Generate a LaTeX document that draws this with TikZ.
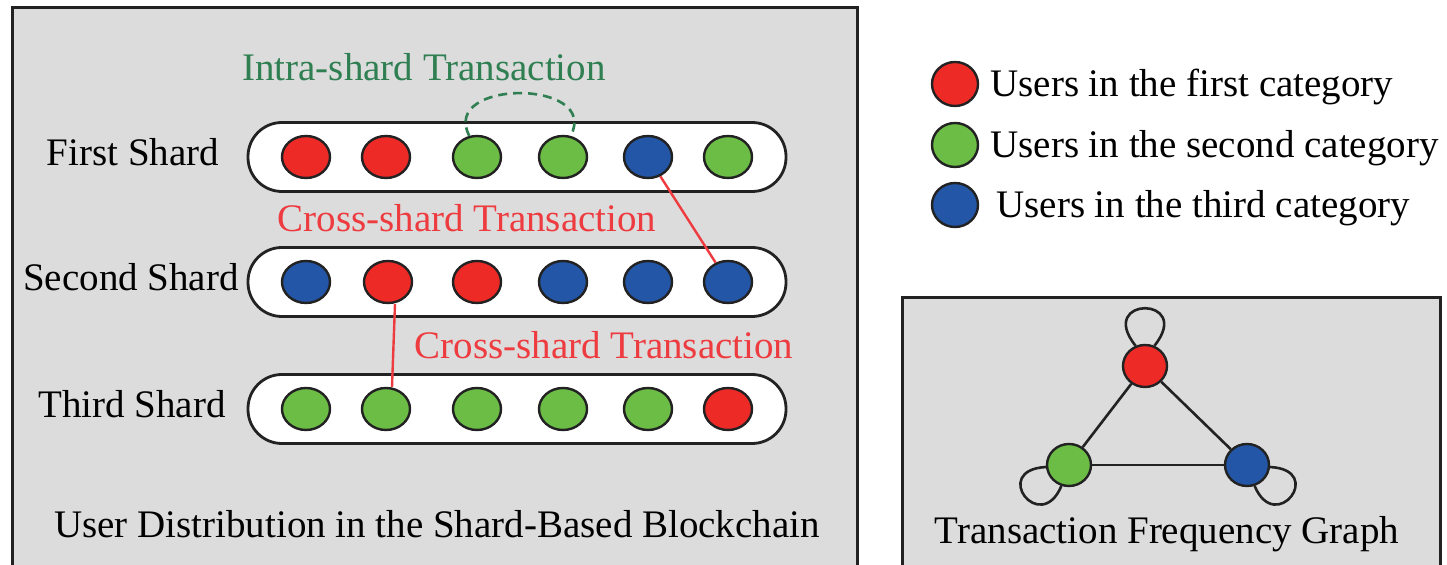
\documentclass[tikz,border=0pt]{standalone}
\usepackage{fontspec}
\setmainfont{Liberation Serif}
\usepackage{xcolor}
\usepackage{tikz}
\usetikzlibrary{arrows.meta,positioning,shapes.geometric}
\definecolor{ink}{HTML}{222222}
\definecolor{panelgray}{HTML}{DCDCDC}
\definecolor{catred}{HTML}{EE2A27}
\definecolor{catgreen}{HTML}{6BBD45}
\definecolor{catblue}{HTML}{2356A6}
\definecolor{crossred}{HTML}{EE3B3F}
\definecolor{intragreen}{HTML}{2F7F52}
\tikzset{
  panel/.style={draw=ink,fill=panelgray,line width=1.5pt},
  shard/.style={rectangle,rounded corners=17pt,draw=ink,fill=white,line width=1.4pt,
    minimum width=269pt,minimum height=34.5pt},
  user/.style={ellipse,draw=ink,line width=1.2pt,minimum width=24pt,minimum height=21pt,inner sep=0pt},
  txt/.style={font=\fontsize{19.5}{23}\selectfont,inner sep=0pt,anchor=base},
  cross/.style={draw=crossred,line width=1.2pt},
  intra/.style={draw=intragreen,line width=1.3pt,dash pattern=on 4.5pt off 3pt},
  link/.style={draw=ink,line width=1.3pt}
}

\begin{document}
\begin{tikzpicture}[x=0.5pt,y=-0.5pt]
\useasboundingbox (0,0) rectangle (1447,565);
\clip (0,0) rectangle (1447,565);
% panels
\draw[panel] (12,8) rectangle (857,620);
\draw[panel] (902,298) rectangle (1440,620);
% shards
\node[shard] (s1) at (517,157) {};
\node[shard] (s2) at (517,282) {};
\node[shard] (s3) at (517,409) {};
\node[txt] (l1) at (133,166) {First Shard};
\node[txt] (l2) at (131,291) {Second Shard};
\node[txt] (l3) at (132,418) {Third Shard};
% users, first shard
\node[user,fill=catred] (u11) at (306,157) {};
\node[user,fill=catred] (u12) at (386,157) {};
\node[user,fill=catgreen] (u13) at (477,157) {};
\node[user,fill=catgreen] (u14) at (563,157) {};
\node[user,fill=catblue] (u15) at (648,157) {};
\node[user,fill=catgreen] (u16) at (728,157) {};
% users, second shard
\node[user,fill=catblue] (u21) at (306,282) {};
\node[user,fill=catred] (u22) at (388,282) {};
\node[user,fill=catred] (u23) at (477,282) {};
\node[user,fill=catblue] (u24) at (563,282) {};
\node[user,fill=catblue] (u25) at (648,282) {};
\node[user,fill=catblue] (u26) at (728,282) {};
% users, third shard
\node[user,fill=catgreen] (u31) at (306,409) {};
\node[user,fill=catgreen] (u32) at (386,409) {};
\node[user,fill=catgreen] (u33) at (477,409) {};
\node[user,fill=catgreen] (u34) at (563,409) {};
\node[user,fill=catgreen] (u35) at (648,409) {};
\node[user,fill=catred] (u36) at (728,409) {};
% transactions
\draw[intra] (u13.110) .. controls +(-30,-57) and +(30,-57) .. (u14.70);
\draw[cross] (u15) -- (u26);
\draw[cross] ([xshift=3.5pt]u22.south) -- ([xshift=3pt]u32.north);
\node[txt,text=intragreen] (ti) at (424,81) {Intra-shard Transaction};
\node[txt,text=crossred] (tc1) at (467,232) {Cross-shard Transaction};
\node[txt,text=crossred] (tc2) at (604,359) {Cross-shard Transaction};
\node[txt] (cap1) at (437,538) {User Distribution in the Shard-Based Blockchain};
% legend
\node[user,fill=catred,minimum width=23pt,minimum height=22pt] (k1) at (955,84) {};
\node[user,fill=catgreen,minimum width=23pt,minimum height=22pt] (k2) at (955,145) {};
\node[user,fill=catblue,minimum width=23pt,minimum height=22pt] (k3) at (955,205) {};
\node[txt,anchor=base west] (kt1) at (990,97) {Users in the first category};
\node[txt,anchor=base west] (kt2) at (990,158) {Users in the second category};
\node[txt,anchor=base west] (kt3) at (996,218) {Users in the third category};
% frequency graph
\node[user,fill=catred,minimum width=22pt] (gr) at (1145,366) {};
\node[user,fill=catgreen,minimum width=22pt] (gg) at (1069,465) {};
\node[user,fill=catblue,minimum width=22pt] (gb) at (1247,465) {};
\draw[link] (gr) -- (gg);
\draw[link] (gr) -- (gb);
\draw[link] (gg) -- (gb);
\draw[link] (gr.115) .. controls +(-40,-50) and +(40,-50) .. (gr.65);
\draw[link] (gg.185) .. controls +(-56,3) and +(-21,50) .. (gg.250);
\draw[link] (gb.-5) .. controls +(56,3) and +(21,50) .. (gb.-70);
\node[txt] (cap2) at (1167,544) {Transaction Frequency Graph};
\end{tikzpicture}
\end{document}
